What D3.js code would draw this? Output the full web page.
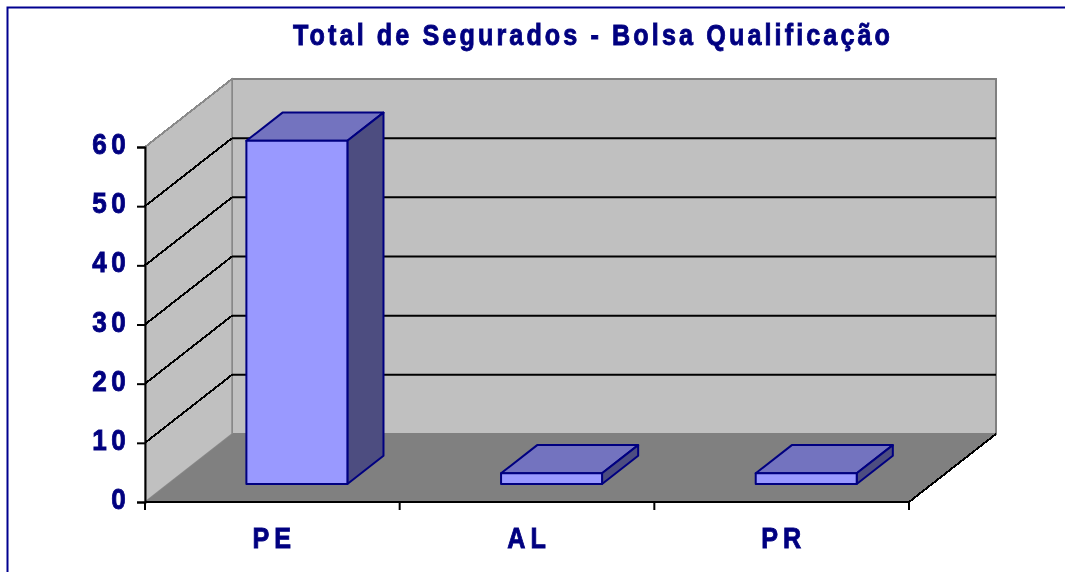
<!DOCTYPE html>
<html><head><meta charset="utf-8">
<script src="https://cdn.jsdelivr.net/npm/d3@7/dist/d3.min.js"></script>
<style>html,body{margin:0;padding:0;background:#fff;overflow:hidden}svg{display:block;filter:blur(0.5px)}
text{font-family:"Liberation Sans",Arial,sans-serif;font-weight:bold;fill:#000080;stroke:#000080;stroke-width:0.9px}</style></head>
<body><svg id="c" width="1065" height="572"></svg>
<script>
const titleText = "Total de Segurados - Bolsa Qualificação";
const categories = ["PE", "AL", "PR"];
const values = [58, 1.8, 1.8];
const yTicks = [0, 10, 20, 30, 40, 50, 60];

const svg = d3.select("#c");
const x = d3.scaleBand().domain(categories).range([145, 909]);
const y = d3.scaleLinear().domain([0, 60]).range([502, 147]);
// depth axis: 0 = front plane, 1 = back wall
const dx = d3.scaleLinear().domain([0, 1]).range([0, 87]);
const dy = d3.scaleLinear().domain([0, 1]).range([0, -68]);
const P = (px, py, d) => [px + dx(d), py + dy(d)];
const line = d3.line();
const poly = pts => line(pts) + "Z";

const x0 = x.range()[0], x1 = x.range()[1], yB = y(0), yT = y(60);

svg.append("path").attr("d", "M7.5,572V7.5H1065").attr("fill", "none").attr("stroke", "#000090").attr("stroke-width", 2);

// walls & floor
svg.append("path").attr("d", poly([P(x0,yT,1),P(x1,yT,1),P(x1,yB,1),P(x0,yB,1)])).attr("fill", "#c0c0c0").attr("stroke", "#808080").attr("stroke-width", 2);
svg.append("path").attr("d", poly([P(x0,yT,0),P(x0,yT,1),P(x0,yB,1),P(x0,yB,0)])).attr("fill", "#c0c0c0").attr("stroke", "#8a8a8a").attr("stroke-width", 1.5);
svg.append("path").attr("d", poly([P(x0,yB,0),P(x1,yB,0),P(x1,yB,1),P(x0,yB,1)])).attr("fill", "#808080");
svg.append("path").attr("d", line([P(x1,yB,0),P(x1,yB,1)])).attr("stroke", "#000").attr("stroke-width", 2).attr("shape-rendering", "crispEdges");
svg.append("path").attr("d", line([P(x0,yT,0),P(x0,yT,1)])).attr("stroke", "#8a8a8a").attr("stroke-width", 2).attr("shape-rendering", "crispEdges");

// gridlines
yTicks.filter(v => v > 0 && v < 60).forEach(v => {
  svg.append("path").attr("d", line([P(x0,y(v),0),P(x0,y(v),1)]))
    .attr("fill","none").attr("stroke","#000").attr("stroke-width",2).attr("shape-rendering", "crispEdges");
  svg.append("path").attr("d", line([P(x0,y(v),1),P(x1,y(v),1)]))
    .attr("fill","none").attr("stroke","#000").attr("stroke-width",2);
});

// axes
const ax = svg.append("g").attr("transform", `translate(${x0},0)`)
  .call(d3.axisLeft(y).tickValues(yTicks).tickSize(8).tickFormat(d3.format("d")));
ax.selectAll("line,path").attr("stroke", "#000").attr("stroke-width", 2);
ax.selectAll("text").attr("font-size", 30).attr("letter-spacing", 5).attr("fill", "#000080")
  .attr("x", 0).attr("dy", "0.22em").attr("transform", "translate(-15,0) scale(0.87,1)");

const bx = svg.append("g").attr("transform", `translate(0,${yB})`)
  .call(d3.axisBottom(x).tickSize(0).tickFormat(d => d));
bx.select("path").remove();
bx.selectAll("text").attr("font-size", 30).attr("letter-spacing", 6).attr("fill", "#000080")
  .attr("y", 0).attr("dy", 0).attr("transform", "translate(2,46) scale(0.84,1)");
svg.append("g").selectAll("line").data([x0, ...categories.map(c => x(c) + x.bandwidth())]).join("line")
  .attr("x1", d => d).attr("x2", d => d).attr("y1", yB).attr("y2", yB + 8).attr("stroke", "#000").attr("stroke-width", 2);
svg.append("line").attr("x1", x0).attr("x2", x1).attr("y1", yB).attr("y2", yB).attr("stroke", "#000").attr("stroke-width", 2);

// 3D bars
const dFront = 0.265, dBack = 0.68, barW = 101;
const faces = svg.append("g").selectAll("g").data(categories.map((c, i) => ({c, v: values[i]}))).join("g")
  .attr("stroke", "#000080").attr("stroke-width", 2).attr("stroke-linejoin", "round");
faces.each(function(d) {
  const g = d3.select(this);
  const a = x(d.c) + (x.bandwidth() - barW) / 2 + 1.5, b = a + barW;
  const t = y(d.v), u = yB;
  g.append("path").attr("d", poly([P(a,t,dFront),P(b,t,dFront),P(b,t,dBack),P(a,t,dBack)])).attr("fill", "#7373bf");
  g.append("path").attr("d", poly([P(b,t,dFront),P(b,t,dBack),P(b,u,dBack),P(b,u,dFront)])).attr("fill", "#4d4d80");
  g.append("path").attr("d", poly([P(a,t,dFront),P(b,t,dFront),P(b,u,dFront),P(a,u,dFront)])).attr("fill", "#9999ff");
});

// title
svg.append("text").attr("transform", "translate(293,45) scale(0.84,1)").attr("font-size", 30)
  .attr("textLength", 597 / 0.84).attr("lengthAdjust", "spacing").text(titleText);
</script></body></html>
